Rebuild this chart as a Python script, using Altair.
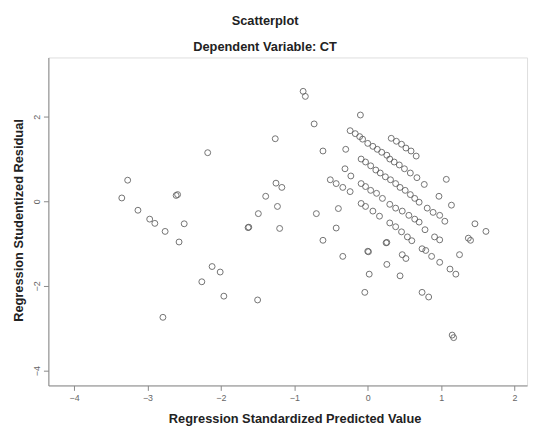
import altair as alt
import pandas as pd

# Scattered points (standardized predicted value, studentized residual)
spread_pred = [-3.27, -3.35, -3.13, -2.97, -2.90, -2.76, -2.57, -2.50, -2.61, -2.59,
               -2.18, -2.12, -2.01, -2.26, -1.96, -2.79, -1.50, -1.63, -1.62, -1.49,
               -1.39, -1.26, -1.25, -1.17, -1.23, -1.20, -0.88, -0.85, -0.73, -0.61,
               -0.70, -0.40, -0.43, -0.61, -0.34, 0.00, 0.01, 0.02, -0.04, -0.10,
               0.26, 0.44, 0.25, 0.26, 0.74, 0.83, 1.12, 1.20, 1.25, 1.37,
               1.40, 1.46, 1.61, 1.15, 1.17, 1.07, 0.97, 1.14, -0.30]
spread_resid = [0.50, 0.08, -0.21, -0.42, -0.52, -0.71, -0.96, -0.53, 0.14, 0.16,
                1.15, -1.54, -1.67, -1.90, -2.24, -2.74, -2.33, -0.62, -0.61, -0.29,
                0.12, 1.48, 0.43, 0.33, -0.12, -0.64, 2.60, 2.48, 1.83, 1.19,
                -0.29, -0.17, -0.63, -0.92, -1.30, -1.18, -1.19, -1.72, -2.15, 2.04,
                -1.49, -1.76, -0.98, -0.97, -2.15, -2.26, -1.60, -1.72, -1.26, -0.87,
                -0.92, -0.53, -0.71, -3.16, -3.22, 0.52, 0.12, -0.09, 1.23]

# Dense diagonal bands
band_pred = [-0.24, -0.17, -0.11, -0.07, 0.00, 0.07, 0.13, 0.19, 0.26,
             0.32, 0.39, 0.46, 0.52, 0.59, 0.66,
             -0.09, -0.03, 0.04, 0.11, 0.17, 0.24, 0.31, 0.38, 0.44, 0.51, 0.58, 0.64, 0.70,
             0.30, 0.36, 0.43, 0.50, 0.58, 0.67, 0.77,
             -0.31, -0.23, -0.09, -0.03, 0.04, 0.12, 0.20, 0.30, 0.38, 0.47, 0.56, 0.64, 0.70,
             0.81, 0.89, 0.98, 1.05,
             -0.51, -0.43, -0.34, -0.24, -0.09, -0.03, 0.07, 0.16, 0.30, 0.38, 0.46, 0.54, 0.60,
             0.78, 0.91, 0.98,
             0.74, 0.79, 0.87, 0.98, 0.47, 0.52]
band_resid = [1.67, 1.60, 1.53, 1.47, 1.37, 1.30, 1.23, 1.16, 1.09,
              1.49, 1.42, 1.35, 1.26, 1.19, 1.07,
              1.00, 0.93, 0.84, 0.74, 0.67, 0.58, 0.51, 0.42, 0.33, 0.26, 0.16, 0.07, -0.02,
              1.00, 0.93, 0.86, 0.77, 0.67, 0.56, 0.40,
              0.77, 0.60, 0.42, 0.35, 0.26, 0.19, 0.07, -0.07, -0.16, -0.23, -0.33, -0.42, -0.49,
              -0.16, -0.26, -0.33, -0.47,
              0.51, 0.42, 0.33, 0.23, -0.05, -0.12, -0.23, -0.35, -0.51, -0.60, -0.72, -0.84, -0.93,
              -0.67, -0.84, -0.91,
              -1.12, -1.16, -1.30, -1.44, -1.26, -1.35]

x_ticks = [-4, -3, -2, -1, 0, 1, 2]
y_ticks = [-4, -2, 0, 2]

df = pd.DataFrame({
    "pred": spread_pred + band_pred,
    "resid": spread_resid + band_resid,
})

FONT = "Liberation Sans"

chart = alt.Chart(df).mark_point(
    shape="circle", filled=False, size=36, stroke="#5a5a5a", strokeWidth=1, opacity=0.85
).encode(
    x=alt.X("pred:Q",
            scale=alt.Scale(domain=[-4.35, 2.17], nice=False, zero=False),
            axis=alt.Axis(values=x_ticks, title="Regression Standardized Predicted Value",
                          grid=False, tickSize=5, labelFontSize=9, labelColor="#666666",
                          labelFont=FONT, titleFont=FONT, titleFontSize=13, titleFontWeight="bold",
                          titleColor="#222222", domainColor="#888888", tickColor="#888888",
                          labelPadding=3, titleX=250, titleY=38, titleAlign="center",
                          titleBaseline="alphabetic")),
    y=alt.Y("resid:Q",
            scale=alt.Scale(domain=[-4.35, 3.4], nice=False, zero=False),
            axis=alt.Axis(values=y_ticks, title="Regression Studentized Residual",
                          grid=False, tickSize=5, labelFontSize=9, labelColor="#666666",
                          labelAngle=270, labelAlign="center", labelBaseline="bottom",
                          labelFont=FONT, titleFont=FONT, titleFontSize=13, titleFontWeight="bold",
                          titleColor="#222222", domainColor="#888888", tickColor="#888888",
                          labelPadding=2, titleAngle=270, titleX=-30, titleY=165,
                          titleAlign="center", titleBaseline="middle")),
).properties(
    width=486,
    height=333,
    title=alt.TitleParams(
        text="Scatterplot", subtitle="Dependent Variable: CT",
        anchor="middle", dx=-23, font=FONT, fontSize=13, fontWeight="bold", color="#222222",
        subtitleFont=FONT, subtitleFontSize=13, subtitleFontWeight="bold",
        subtitleColor="#222222", subtitlePadding=13, offset=4,
    ),
    padding={"left": 41, "top": 47, "right": 4, "bottom": 42},
    autosize=alt.AutoSizeParams(type="none"),
).configure_view(
    fill="#f0f0f0", stroke="#888888", strokeWidth=1
).configure(background="white")

chart.save("out.html", embed_options={"renderer": "svg", "actions": False})
